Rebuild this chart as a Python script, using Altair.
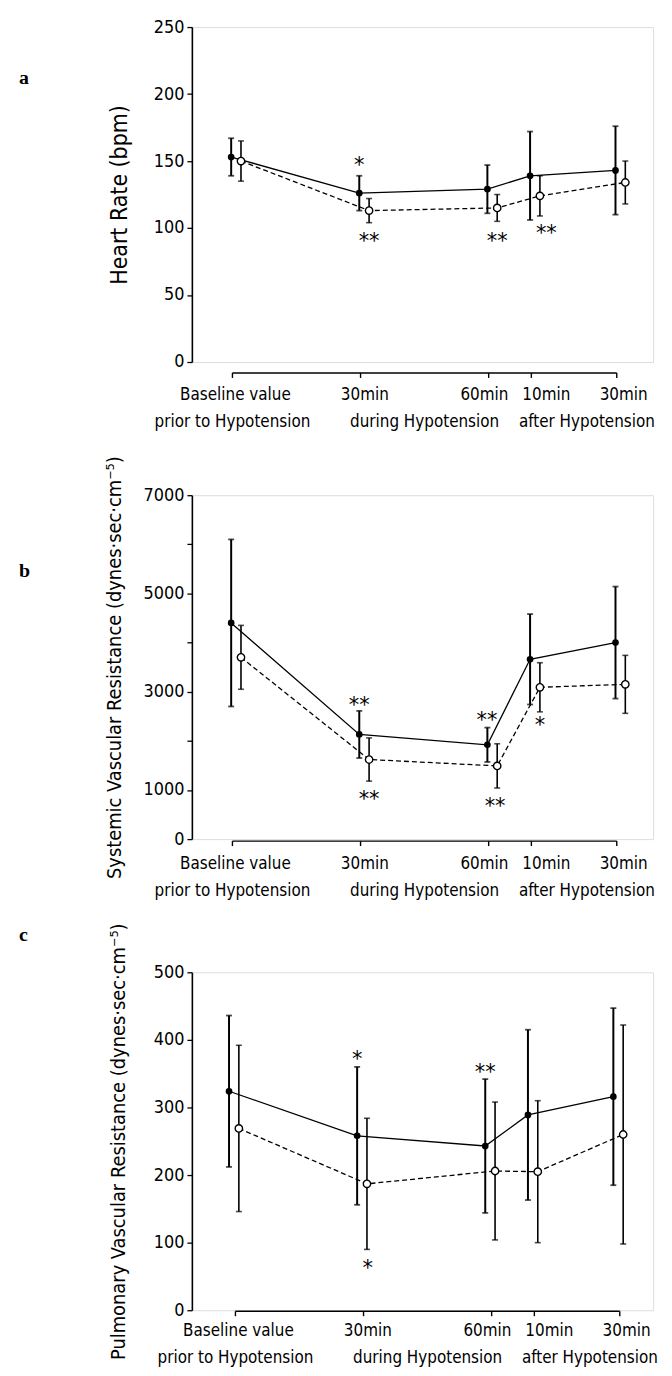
import altair as alt
import pandas as pd

# ---------------- data ----------------
times = [0, 30, 60, 70, 90]
top_labels = ["Baseline value", "30min", "60min", "10min", "30min"]
top_label_t = [0.7, 31, 59, 73.5, 91.6]
bottom_labels = ["prior to Hypotension", "during Hypotension", "after Hypotension"]
bottom_label_t = [0, 45, 83]

# a: Heart rate
hr_solid = [153, 126, 129, 139, 143]
hr_solid_err = [14, 13, 18, 33, 33]
hr_open = [150, 113, 115, 124, 134]
hr_open_err = [15, 9, 10, 15, 16]
hr_star_text = ["*", "**", "**", "**"]
hr_star_t = [29.7, 32, 62, 73.5]
hr_star_y = [150, 93, 93, 99]
hr_ticks = [0, 50, 100, 150, 200, 250]
hr_labeled = [0, 50, 100, 150, 200, 250]

# b: Systemic vascular resistance
svr_solid = [4400, 2130, 1920, 3660, 4000]
svr_solid_err = [1700, 480, 350, 920, 1140]
svr_open = [3700, 1620, 1490, 3090, 3150]
svr_open_err = [650, 440, 450, 500, 590]
svr_star_text = ["**", "**", "**", "**", "*"]
svr_star_t = [29.7, 32, 59.6, 61.5, 72]
svr_star_y = [2800, 900, 2500, 750, 2400]
svr_ticks = [0, 1000, 2000, 3000, 4000, 5000, 6000, 7000]
svr_labeled = [0, 1000, 3000, 5000, 7000]

# c: Pulmonary vascular resistance
pvr_solid = [324, 258, 243, 289, 316]
pvr_solid_err = [112, 102, 99, 126, 131]
pvr_open = [269, 187, 206, 205, 260]
pvr_open_err = [123, 97, 102, 105, 162]
pvr_star_text = ["*", "**", "*"]
pvr_star_t = [28.5, 58.5, 31]
pvr_star_y = [377, 359, 69]
pvr_ticks = [0, 100, 200, 300, 400, 500]
pvr_labeled = [0, 100, 200, 300, 400, 500]

FONT = "'DejaVu Sans Condensed', 'Liberation Sans Narrow', Roboto, sans-serif"
W = 464


def make_panel(letter, ytitle, ymax, yticks, ylabeled, solid, solid_err, opn, opn_err,
               star_text, star_t, star_y, height, axis_gap, line_gap, solid_shift,
               open_shift, letter_y, title_x, xdom, title_size=20):
    xs = alt.Scale(domain=xdom, nice=False, zero=False)
    ys = alt.Scale(domain=[0, ymax], nice=False, zero=True)
    lab_list = ",".join(str(v) for v in ylabeled)
    yaxis = alt.Axis(
        values=yticks, format="d",
        labelExpr=f"indexof([{lab_list}], datum.value) >= 0 ? datum.label : ''",
        title=ytitle, titleX=title_x, titleY=height / 2, titleAngle=270,
        titleAlign="center", titleBaseline="middle", titleFont=FONT,
        titleFontSize=title_size, titleFontWeight="normal", titleColor="black",
        labelFont=FONT, labelFontSize=18, labelColor="black", labelPadding=3,
        tickSize=5, tickWidth=1.3, tickColor="black", domainColor="black",
        domainWidth=1.6, grid=False,
    )

    df_s = pd.DataFrame({
        "t": [t + solid_shift for t in times], "v": solid,
        "lo": [m - e for m, e in zip(solid, solid_err)],
        "hi": [m + e for m, e in zip(solid, solid_err)],
    })
    df_o = pd.DataFrame({
        "t": [t + open_shift for t in times], "v": opn,
        "lo": [m - e for m, e in zip(opn, opn_err)],
        "hi": [m + e for m, e in zip(opn, opn_err)],
    })
    caps_s = pd.DataFrame({"t": list(df_s["t"]) * 2, "v": list(df_s["lo"]) + list(df_s["hi"])})
    caps_o = pd.DataFrame({"t": list(df_o["t"]) * 2, "v": list(df_o["lo"]) + list(df_o["hi"])})
    stars = pd.DataFrame({"t": star_t, "v": star_y, "s": star_text})
    axis_df = pd.DataFrame({"t0": [times[0]], "t1": [times[-1]]})
    tick_df = pd.DataFrame({"t": times})
    top_df = pd.DataFrame({"t": top_label_t, "label": top_labels})
    bot_df = pd.DataFrame({"t": bottom_label_t, "label": bottom_labels})
    letter_df = pd.DataFrame({"letter": [letter]})

    X = lambda f: alt.X(f, scale=xs, axis=None)
    Y = lambda f: alt.Y(f, scale=ys, axis=yaxis)

    line_s = alt.Chart(df_s).mark_line(color="black", strokeWidth=1.3).encode(x=X("t:Q"), y=Y("v:Q"))
    line_o = alt.Chart(df_o).mark_line(color="black", strokeWidth=1.3, strokeDash=[5, 3]).encode(
        x=X("t:Q"), y=Y("v:Q"))
    err_s = alt.Chart(df_s).mark_rule(color="black", strokeWidth=2).encode(
        x=X("t:Q"), y=Y("lo:Q"), y2="hi:Q")
    err_o = alt.Chart(df_o).mark_rule(color="black", strokeWidth=1.6).encode(
        x=X("t:Q"), y=Y("lo:Q"), y2="hi:Q")
    cap_s = alt.Chart(caps_s).mark_tick(color="black", orient="horizontal", size=6, thickness=1.8).encode(
        x=X("t:Q"), y=Y("v:Q"))
    cap_o = alt.Chart(caps_o).mark_tick(color="black", orient="horizontal", size=6, thickness=1.6).encode(
        x=X("t:Q"), y=Y("v:Q"))
    pt_s = alt.Chart(df_s).mark_point(shape="circle", filled=True, color="black", size=45, opacity=1).encode(
        x=X("t:Q"), y=Y("v:Q"))
    pt_o = alt.Chart(df_o).mark_point(shape="circle", filled=True, fill="white", stroke="black",
                                      strokeWidth=1.4, size=55, opacity=1).encode(
        x=X("t:Q"), y=Y("v:Q"))
    star = alt.Chart(stars).mark_text(font="DejaVu Sans", fontSize=21, color="black",
                                      baseline="middle", dy=5).encode(
        x=X("t:Q"), y=Y("v:Q"), text="s:N")
    xline = alt.Chart(axis_df).mark_rule(color="black", strokeWidth=1.4).encode(
        x=X("t0:Q"), x2="t1:Q", y=alt.value(height + axis_gap))
    xticks = alt.Chart(tick_df).mark_rule(color="black", strokeWidth=1.4).encode(
        x=X("t:Q"), y=alt.value(height + axis_gap), y2=alt.value(height + axis_gap + 5))
    top_txt = alt.Chart(top_df).mark_text(font=FONT, fontSize=17, color="black", baseline="middle").encode(
        x=X("t:Q"), y=alt.value(height + axis_gap + line_gap), text="label:N")
    bot_txt = alt.Chart(bot_df).mark_text(font=FONT, fontSize=17, color="black", baseline="middle").encode(
        x=X("t:Q"), y=alt.value(height + axis_gap + line_gap + 27), text="label:N")
    let_txt = alt.Chart(letter_df).mark_text(font="Liberation Serif", fontWeight="bold", fontSize=20,
                                             color="black", align="left", baseline="middle").encode(
        x=alt.value(-174), y=alt.value(letter_y), text="letter:N")

    return alt.layer(line_s, line_o, err_s, err_o, cap_s, cap_o, pt_s, pt_o, star,
                     xline, xticks, top_txt, bot_txt, let_txt).properties(width=W, height=height)


pa = make_panel("a", "Heart Rate (bpm)", 250, hr_ticks, hr_labeled, hr_solid, hr_solid_err,
                hr_open, hr_open_err, hr_star_text, hr_star_t, hr_star_y,
                height=337, axis_gap=11, line_gap=22, solid_shift=-0.3, open_shift=2.0,
                letter_y=51, title_x=-73, xdom=[-9.5, 98.5], title_size=23)
pb = make_panel("b", "Systemic Vascular Resistance (dynes·sec·cm⁻⁵)", 7000, svr_ticks, svr_labeled,
                svr_solid, svr_solid_err, svr_open, svr_open_err, svr_star_text, svr_star_t, svr_star_y,
                height=346, axis_gap=2, line_gap=23, solid_shift=-0.3, open_shift=2.0,
                letter_y=76, title_x=-78, xdom=[-9.5, 98.5])
pc = make_panel("c", "Pulmonary Vascular Resistance (dynes·sec·cm⁻⁵)", 500, pvr_ticks, pvr_labeled,
                pvr_solid, pvr_solid_err, pvr_open, pvr_open_err, pvr_star_text, pvr_star_t, pvr_star_y,
                height=340, axis_gap=1, line_gap=20, solid_shift=-1.5, open_shift=0.8,
                letter_y=-37, title_x=-74, xdom=[-10.2, 97.8])

chart = alt.vconcat(pa, pb, pc, spacing=134, bounds="flush").properties(
    padding={"left": 10, "top": 5, "right": 5, "bottom": 5}
).configure_view(stroke=None).configure(background="white")

chart.save("out.html", embed_options={"renderer": "svg", "actions": False})
